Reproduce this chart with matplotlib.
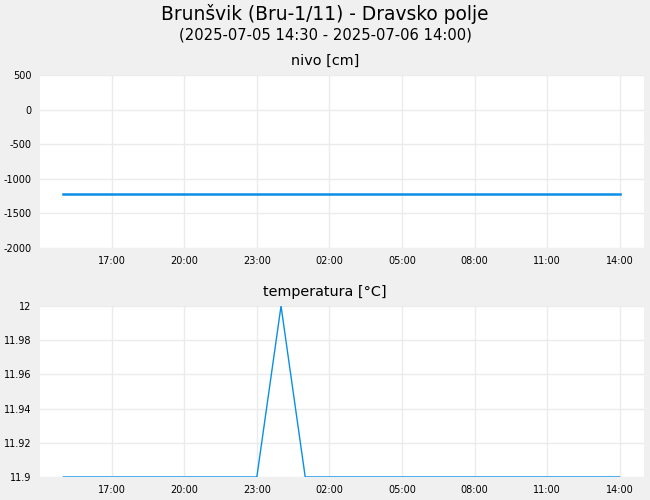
import pandas as pd
import matplotlib.pyplot as plt
import matplotlib.dates as mdates
from matplotlib.ticker import FuncFormatter

plt.rcParams['axes.unicode_minus'] = False

# podatki - urne meritve
times = pd.date_range("2025-07-05 15:00", "2025-07-06 14:00", freq="h")
nivo = [-1215] * 24
temperatura = [11.9, 11.9, 11.9, 11.9, 11.9, 11.9, 11.9, 11.9, 11.9, 12.0,
               11.9, 11.9, 11.9, 11.9, 11.9, 11.9, 11.9, 11.9, 11.9, 11.9,
               11.9, 11.9, 11.9, 11.9]

line_color = '#0a8fe6'
bg = '#f0f0f0'

fig = plt.figure(figsize=(6.5, 5), dpi=100, facecolor=bg)
fig.text(0.5, 0.972, "Brunšvik (Bru-1/11) - Dravsko polje", ha='center', va='center', fontsize=13.4)
fig.text(0.5, 0.931, "(2025-07-05 14:30 - 2025-07-06 14:00)", ha='center', va='center', fontsize=10.6)

ax1 = fig.add_axes([0.0615, 0.504, 0.929, 0.346])
ax2 = fig.add_axes([0.0615, 0.046, 0.929, 0.342])

xmin = pd.Timestamp("2025-07-05 14:02")
xmax = pd.Timestamp("2025-07-06 15:00")

for ax in (ax1, ax2):
    ax.set_facecolor('white')
    for s in ax.spines.values():
        s.set_visible(False)
    ax.grid(True, color='#ebebeb', linewidth=1)
    ax.set_axisbelow(True)
    ax.tick_params(length=0, labelsize=7, pad=6)
    ax.set_xlim(xmin, xmax)
    ax.xaxis.set_major_locator(mdates.HourLocator(byhour=[2, 5, 8, 11, 14, 17, 20, 23]))
    ax.xaxis.set_major_formatter(mdates.DateFormatter('%H:%M'))

ax1.plot(times, nivo, color=line_color, linewidth=1.8)
ax1.set_ylim(-2000, 500)
ax1.set_yticks([-2000, -1500, -1000, -500, 0, 500])
ax1.set_title("nivo [cm]", fontsize=10.4, pad=7, x=0.472)

ax2.plot(times, temperatura, color=line_color, linewidth=1)
ax2.set_ylim(11.9, 12.0)
ax2.set_yticks([11.9, 11.92, 11.94, 11.96, 11.98, 12.0])
ax2.yaxis.set_major_formatter(FuncFormatter(lambda v, p: '%g' % round(v, 2)))
ax2.set_title("temperatura [°C]", fontsize=10.4, pad=7, x=0.472)

plt.savefig("out.png", dpi=100, facecolor=bg)
